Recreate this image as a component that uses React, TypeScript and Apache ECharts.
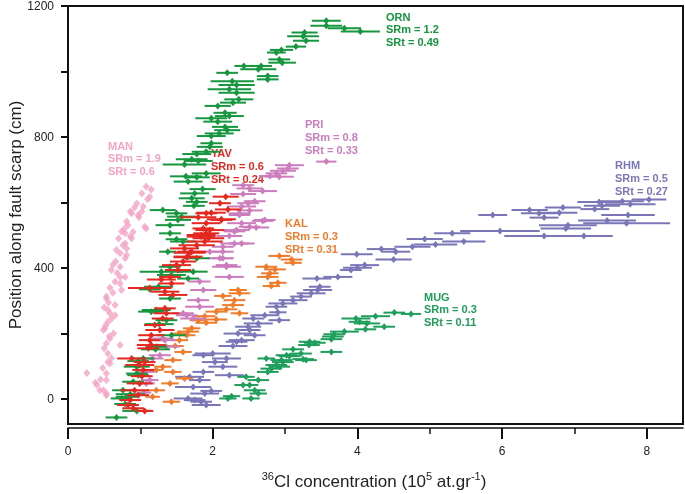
import React, { useEffect, useRef } from "react";
import * as echarts from "echarts";

// [x (10^5 at/g), position (cm), half error on x]
const ORN: number[][] = [
  [3.57, 1155, 0.2], [3.57, 1140, 0.22], [3.82, 1132, 0.23], [4.04, 1122, 0.27], [3.27, 1119, 0.18],
  [3.25, 1108, 0.22], [3.29, 1094, 0.18], [3.15, 1076, 0.14], [2.95, 1066, 0.16], [2.88, 1058, 0.13],
  [2.92, 1037, 0.15], [2.96, 1027, 0.19], [2.67, 1017, 0.15], [2.63, 1007, 0.25], [2.43, 1017, 0.13],
  [2.76, 986, 0.15], [2.76, 976, 0.15], [2.2, 996, 0.15], [2.27, 970, 0.3], [2.33, 959, 0.25],
  [2.23, 946, 0.3], [2.33, 935, 0.25], [2.36, 915, 0.2], [2.28, 905, 0.18], [2.07, 895, 0.18],
  [2.17, 874, 0.16], [2.23, 864, 0.2], [1.98, 857, 0.22], [2.07, 847, 0.2], [2.17, 831, 0.18],
  [2.2, 821, 0.18], [2.09, 811, 0.2], [1.98, 803, 0.2], [1.98, 781, 0.15], [1.96, 770, 0.18],
  [1.91, 755, 0.2], [1.78, 748, 0.2], [1.71, 732, 0.22], [1.8, 727, 0.2], [1.61, 716, 0.3],
  [1.91, 689, 0.2], [1.63, 680, 0.22], [1.66, 664, 0.2], [1.78, 677, 0.18], [1.86, 641, 0.18],
  [1.75, 628, 0.2], [1.71, 613, 0.18], [1.78, 602, 0.15], [1.74, 590, 0.15], [1.31, 577, 0.18],
  [1.5, 567, 0.15], [1.57, 557, 0.2], [1.52, 547, 0.18], [1.41, 531, 0.2], [1.41, 506, 0.15],
  [1.5, 488, 0.15], [1.59, 481, 0.18], [1.38, 450, 0.12], [1.78, 430, 0.18], [1.41, 404, 0.15],
  [1.29, 389, 0.3], [1.73, 389, 0.2], [1.43, 379, 0.2], [1.66, 368, 0.15], [1.25, 343, 0.2],
  [1.13, 335, 0.15], [1.41, 307, 0.15], [1.15, 267, 0.18], [1.22, 272, 0.2], [1.36, 241, 0.15],
  [1.26, 229, 0.2], [1.43, 195, 0.2], [1.21, 152, 0.2], [1.22, 160, 0.15], [1.04, 124, 0.15],
  [0.97, 116, 0.15], [0.95, 99, 0.18], [0.95, 78, 0.15], [0.97, 73, 0.15], [0.9, 53, 0.15],
  [0.76, 27, 0.15], [0.86, 15, 0.2], [0.81, 7, 0.15], [0.74, 2, 0.15], [0.79, -15, 0.15],
  [0.95, -36, 0.2], [0.67, -56, 0.15],
];

const YAV: number[][] = [
  [2.18, 618, 0.18], [2.1, 598, 0.15], [2.21, 579, 0.18], [1.98, 569, 0.2], [2.12, 549, 0.2],
  [1.8, 555, 0.25], [1.96, 516, 0.2], [1.91, 506, 0.18], [1.84, 496, 0.2], [1.94, 491, 0.22],
  [1.78, 470, 0.25], [1.71, 450, 0.2], [1.66, 435, 0.2], [1.59, 420, 0.18], [1.91, 567, 0.15],
  [2.12, 547, 0.15], [1.91, 537, 0.2], [1.87, 521, 0.15], [1.84, 501, 0.2], [1.89, 481, 0.25],
  [1.61, 460, 0.2], [1.68, 447, 0.22], [1.64, 433, 0.18], [1.5, 409, 0.2], [1.52, 394, 0.18],
  [1.41, 373, 0.15], [1.29, 365, 0.2], [1.43, 353, 0.18], [1.13, 339, 0.3], [1.34, 328, 0.2],
  [1.45, 318, 0.2], [1.34, 277, 0.15], [1.36, 262, 0.18], [1.31, 246, 0.15], [1.2, 226, 0.15],
  [1.27, 211, 0.2], [1.15, 195, 0.18], [1.13, 180, 0.15], [1.15, 165, 0.2], [1.11, 155, 0.15],
  [0.88, 124, 0.2], [1.06, 113, 0.15], [0.99, 104, 0.2], [1.04, 89, 0.15], [1.02, 70, 0.15],
  [0.99, 48, 0.18], [0.92, 27, 0.2], [0.97, 12, 0.15], [0.86, -3, 0.15], [0.83, -18, 0.15],
  [0.9, -28, 0.15], [1.06, -36, 0.12],
];

const PRI: number[][] = [
  [3.57, 725, 0.14], [3.06, 714, 0.2], [3.04, 704, 0.15], [2.97, 697, 0.18], [2.88, 689, 0.15],
  [2.92, 679, 0.2], [2.79, 681, 0.15], [2.42, 653, 0.15], [2.51, 643, 0.18], [2.69, 635, 0.2],
  [2.42, 626, 0.18], [2.58, 604, 0.15], [2.49, 598, 0.15], [2.4, 588, 0.2], [2.51, 576, 0.18],
  [2.37, 562, 0.15], [2.72, 547, 0.15], [2.69, 544, 0.15], [2.37, 567, 0.15], [2.4, 537, 0.2],
  [2.51, 526, 0.15], [2.6, 524, 0.18], [2.3, 512, 0.15], [2.33, 516, 0.18], [2.23, 498, 0.18],
  [2.4, 475, 0.18], [2.3, 475, 0.2], [2.14, 465, 0.15], [1.96, 450, 0.2], [2.14, 450, 0.15],
  [2.1, 430, 0.18], [2.14, 430, 0.15], [2.19, 404, 0.2], [2.19, 409, 0.15], [2.23, 373, 0.2],
  [1.82, 359, 0.15], [1.87, 333, 0.18], [1.8, 302, 0.15], [1.82, 282, 0.2], [1.64, 256, 0.15],
  [1.59, 262, 0.15], [1.73, 246, 0.18], [1.31, 185, 0.15], [1.34, 180, 0.15], [1.36, 160, 0.18],
  [1.27, 134, 0.15], [1.17, 124, 0.15], [1.08, 83, 0.12], [1.13, 58, 0.12], [1.08, 48, 0.12],
  [1.05, 20, 0.1],
];

const KAL: number[][] = [
  [2.92, 437, 0.15], [3.09, 426, 0.15], [3.11, 416, 0.12], [2.74, 404, 0.15], [2.86, 396, 0.15],
  [2.79, 384, 0.12], [2.76, 373, 0.15], [2.9, 355, 0.12], [2.81, 345, 0.12], [2.35, 333, 0.12],
  [2.37, 323, 0.15], [2.14, 315, 0.12], [2.3, 302, 0.15], [2.28, 287, 0.15], [2.19, 274, 0.15],
  [2.05, 267, 0.15], [2.37, 262, 0.12], [1.89, 253, 0.15], [2.05, 243, 0.15], [1.8, 241, 0.12],
  [1.91, 233, 0.15], [1.71, 216, 0.12], [1.66, 206, 0.15], [1.64, 195, 0.12], [1.54, 200, 0.12],
  [1.54, 180, 0.12], [1.48, 162, 0.12], [1.59, 144, 0.12], [1.45, 119, 0.12], [1.31, 99, 0.12],
  [1.22, 89, 0.1], [1.45, 83, 0.12], [1.61, 63, 0.12], [1.41, 48, 0.12], [1.22, 27, 0.12],
  [1.17, 7, 0.1], [1.43, -8, 0.12],
];

const RHM: number[][] = [
  [8.03, 609, 0.24], [7.66, 604, 0.3], [7.34, 602, 0.3], [7.38, 590, 0.25], [7.28, 580, 0.2],
  [7.77, 595, 0.35], [6.84, 585, 0.25], [6.38, 577, 0.25], [6.51, 567, 0.25], [6.79, 569, 0.25],
  [6.58, 554, 0.2], [5.87, 562, 0.2], [7.74, 562, 0.37], [7.45, 545, 0.4], [7.72, 537, 0.6],
  [6.91, 531, 0.4], [6.88, 521, 0.35], [5.97, 513, 0.55], [6.58, 498, 0.55], [7.13, 498, 0.4],
  [5.31, 506, 0.25], [5.47, 481, 0.3], [4.93, 489, 0.25], [5.08, 472, 0.3], [4.76, 465, 0.25],
  [4.33, 458, 0.2], [4.53, 450, 0.2], [4.5, 426, 0.25], [3.99, 442, 0.22], [4.1, 409, 0.2],
  [4.0, 401, 0.2], [3.91, 394, 0.15], [3.73, 373, 0.2], [3.44, 368, 0.2], [3.48, 343, 0.15],
  [3.45, 333, 0.2], [3.36, 323, 0.2], [3.22, 313, 0.15], [3.11, 302, 0.2], [2.97, 292, 0.2],
  [2.88, 282, 0.15], [2.9, 265, 0.12], [2.72, 256, 0.2], [2.92, 241, 0.15], [2.56, 246, 0.15],
  [2.63, 231, 0.2], [2.49, 221, 0.18], [2.51, 211, 0.15], [2.35, 200, 0.2], [2.58, 195, 0.15],
  [2.4, 180, 0.18], [2.33, 175, 0.15], [2.28, 162, 0.2], [2.0, 139, 0.25], [1.87, 134, 0.15],
  [2.19, 124, 0.2], [2.03, 113, 0.18], [2.14, 99, 0.2], [2.23, 73, 0.2], [1.87, 83, 0.15],
  [1.82, 58, 0.15], [1.68, 68, 0.2], [1.73, 37, 0.25], [1.98, 25, 0.15], [1.89, 17, 0.2],
  [1.75, -3, 0.15], [1.84, -8, 0.15], [1.91, -18, 0.2], [1.66, 2, 0.2],
];

const MUG: number[][] = [
  [4.74, 260, 0.14], [4.51, 264, 0.15], [4.25, 253, 0.2], [3.98, 246, 0.2], [4.13, 231, 0.18],
  [4.03, 236, 0.15], [4.37, 221, 0.15], [4.11, 213, 0.15], [3.82, 206, 0.2], [3.68, 198, 0.15],
  [3.66, 191, 0.15], [3.64, 183, 0.15], [3.41, 172, 0.15], [3.33, 165, 0.15], [3.11, 152, 0.15],
  [3.64, 144, 0.15], [3.22, 139, 0.15], [3.02, 134, 0.15], [3.29, 119, 0.15], [2.97, 113, 0.15],
  [2.92, 99, 0.15], [3.34, 175, 0.15], [3.25, 122, 0.15], [3.06, 131, 0.15], [2.95, 119, 0.15],
  [2.88, 104, 0.15], [2.81, 93, 0.15], [2.76, 83, 0.15], [2.74, 124, 0.12], [2.63, 58, 0.15],
  [2.46, 68, 0.12], [2.51, 43, 0.12], [2.42, 43, 0.12], [2.58, 27, 0.15], [2.63, 17, 0.12],
  [2.53, 2, 0.12], [2.26, 9, 0.12], [2.21, 2, 0.12],
];

// MAN: points only (x, position)
const MAN: number[][] = [
  [1.08, 649], [1.15, 640], [1.02, 628], [1.13, 618], [1.1, 610], [0.95, 597], [1.04, 588],
  [0.92, 585], [0.88, 567], [1.02, 573], [0.86, 573], [0.97, 562], [0.98, 555], [0.81, 542],
  [0.83, 531], [1.06, 526], [1.08, 521], [0.78, 520], [0.74, 512], [0.9, 510], [0.79, 506],
  [0.86, 496], [0.88, 491], [0.7, 490], [0.79, 475], [0.76, 470], [0.81, 460], [0.67, 455],
  [0.72, 445], [0.81, 440], [0.79, 430], [0.66, 420], [0.62, 410], [0.72, 404], [0.6, 394],
  [0.68, 385], [0.72, 373], [0.79, 373], [0.65, 358], [0.72, 353], [0.58, 340], [0.74, 333],
  [0.62, 325], [0.53, 313], [0.53, 307], [0.56, 295], [0.65, 287], [0.5, 280], [0.55, 272],
  [0.58, 262], [0.65, 256], [0.6, 245], [0.55, 235], [0.52, 225], [0.51, 216], [0.49, 211],
  [0.63, 200], [0.57, 192], [0.58, 185], [0.53, 170], [0.72, 165], [0.5, 155], [0.55, 139],
  [0.6, 125], [0.55, 113], [0.58, 109], [0.48, 95], [0.26, 80], [0.53, 78], [0.45, 60],
  [0.53, 58], [0.38, 50], [0.4, 43], [0.44, 27], [0.49, 27], [0.53, 17], [0.53, 12],
];

const X_MAJOR = [0, 2, 4, 6, 8];
const X_MINOR = [1, 3, 5, 7];
const Y_TICKS = [0, 200, 400, 600, 800, 1000, 1200];
const Y_LABELS = [0, 400, 800, 1200];

const SITES = [
  { name: "MAN", color: "#f4a4c4", srm: "1.9", srt: "0.6", x: 108, y: 139.5 },
  { name: "RHM", color: "#7b77b7", srm: "0.5", srt: "0.27", x: 615, y: 159 },
  { name: "MUG", color: "#1f9e5c", srm: "0.3", srt: "0.11", x: 424, y: 290.5 },
  { name: "KAL", color: "#ef7c2c", srm: "0.3", srt: "0.31", x: 285, y: 217 },
  { name: "PRI", color: "#cc7dbd", srm: "0.8", srt: "0.33", x: 305, y: 118 },
  { name: "ORN", color: "#16963f", srm: "1.2", srt: "0.49", x: 386, y: 10.5 },
  { name: "YAV", color: "#e4281f", srm: "0.6", srt: "0.24", x: 211, y: 147 },
];

const DATA: Record<string, number[][]> = { ORN, YAV, PRI, KAL, RHM, MUG };

function makeRender(color: string) {
  return (_params: any, api: any) => {
    const x = api.value(0);
    const y = api.value(1);
    const e = api.value(2);
    const c = api.coord([x, y]);
    const l = api.coord([x - e, y]);
    const r = api.coord([x + e, y]);
    const s = 3;
    return {
      type: "group",
      children: [
        {
          type: "line",
          shape: { x1: l[0], y1: c[1], x2: r[0], y2: c[1] },
          style: { stroke: color, lineWidth: 2 },
        },
        {
          type: "polygon",
          shape: {
            points: [
              [c[0], c[1] - s - 0.5],
              [c[0] + s, c[1]],
              [c[0], c[1] + s + 0.5],
              [c[0] - s, c[1]],
            ],
          },
          style: { fill: color },
        },
      ],
    };
  };
}

export default function App() {
  const ref = useRef<HTMLDivElement>(null);
  useEffect(() => {
    if (!ref.current) return;
    const chart = echarts.init(ref.current, undefined, { renderer: "svg" });
    const font = "'Liberation Sans', Arial, sans-serif";
    const series: any[] = SITES.map((s) => {
      if (s.name === "MAN") {
        return {
          type: "scatter",
          name: s.name,
          data: MAN,
          symbol: "diamond",
          symbolSize: [7, 8],
          itemStyle: { color: s.color },
          silent: true,
        };
      }
      return {
        type: "custom",
        name: s.name,
        data: DATA[s.name],
        encode: { x: 0, y: 1 },
        renderItem: makeRender(s.color),
        silent: true,
      };
    });

    const labels = SITES.map((s) => ({
      type: "text",
      left: s.x,
      top: s.y,
      silent: true,
      style: {
        text: `${s.name}\nSRm = ${s.srm}\nSRt = ${s.srt}`,
        fill: s.color,
        font: `bold 11px ${font}`,
        lineHeight: 12.6,
      },
    }));

    const xCommon = {
      type: "value",
      min: 0,
      max: 8.5,
      position: "bottom",
      offset: 4,
      gridIndex: 0,
      splitLine: { show: false },
    };

    chart.setOption({
      animation: false,
      textStyle: { fontFamily: font },
      grid: {
        left: 68,
        right: 2,
        top: 6,
        bottom: 70,
        show: true,
        borderColor: "#111",
        borderWidth: 2,
        backgroundColor: "transparent",
      },
      xAxis: [
        {
          ...xCommon,
          axisLine: { show: true, onZero: false, lineStyle: { color: "#111", width: 1.5 } },
          axisTick: { show: true, customValues: X_MAJOR, length: 11, lineStyle: { color: "#111", width: 2 } },
          axisLabel: { customValues: X_MAJOR, color: "#222", fontSize: 12, margin: 17 },
        },
        {
          ...xCommon,
          axisLine: { show: false, onZero: false },
          axisTick: { show: true, customValues: X_MINOR, length: 6, lineStyle: { color: "#111", width: 1.5 } },
          axisLabel: { show: false },
        },
      ],
      yAxis: {
        type: "value",
        min: -76,
        max: 1200,
        axisLine: { show: true, onZero: false, lineStyle: { color: "#111", width: 2 } },
        axisTick: { show: true, customValues: Y_TICKS, length: 7, lineStyle: { color: "#111", width: 2 } },
        axisLabel: {
          customValues: Y_LABELS,
          color: "#222",
          fontSize: 12,
          margin: 14,
          formatter: (v: number) => String(v),
        },
        splitLine: { show: false },
      },
      series,
      graphic: [
        ...labels,
        {
          type: "text",
          x: 15,
          y: 215,
          rotation: Math.PI / 2,
          silent: true,
          style: {
            text: "Position along fault scarp (cm)",
            fill: "#222",
            font: `17px ${font}`,
            align: "center",
            verticalAlign: "middle",
          },
        },
        {
          type: "text",
          x: 374,
          y: 481,
          silent: true,
          style: {
            text: "{s|36}{n|Cl concentration (10}{s|5}{n| at.gr}{s|-1}{n|)}",
            align: "center",
            verticalAlign: "middle",
            rich: {
              n: { fontSize: 17, fontFamily: font, fill: "#222", lineHeight: 22 },
              s: { fontSize: 11, fontFamily: font, fill: "#222", lineHeight: 13, verticalAlign: "top" },
            },
          },
        },
      ],
    });
    return () => chart.dispose();
  }, []);
  return (
    <div
      ref={ref}
      style={{ position: "fixed", left: 0, top: 0, width: 685, height: 494 }}
    />
  );
}
